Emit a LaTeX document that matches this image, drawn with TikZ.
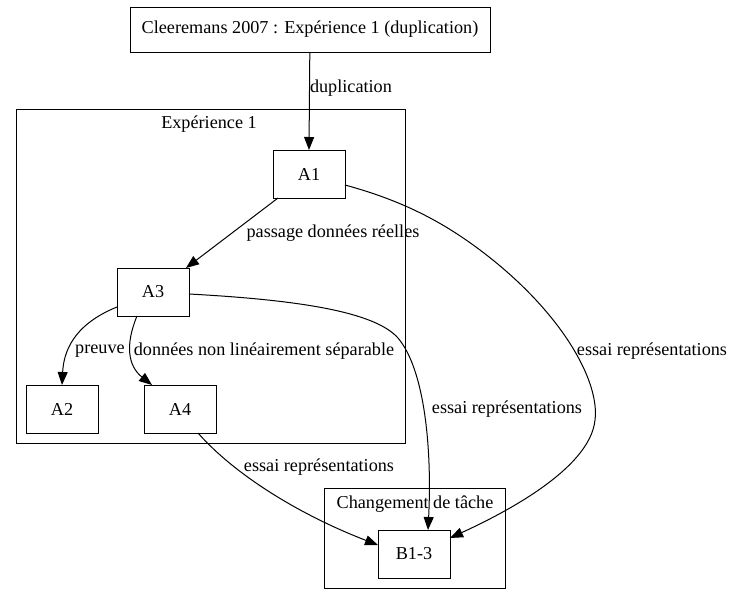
\documentclass[tikz,border=0pt]{standalone}
\usepackage{fontspec}
\setmainfont{Liberation Serif}
\usepackage{tikz}
\usetikzlibrary{positioning}
\usetikzlibrary{arrows.meta}
\tikzset{box/.style={draw, rectangle, minimum width=72pt, minimum height=48pt, inner sep=0pt}}
\tikzset{cluster/.style={draw, rectangle}}
\tikzset{edge/.style={-{Triangle[length=13pt,width=10pt]}}}
\tikzset{lbl/.style={inner sep=1pt}}

\begin{document}
\begin{tikzpicture}[x=1pt, y=-1pt, font=\fontsize{18.2}{20}\selectfont, line width=1pt]
\useasboundingbox (0,0) rectangle (733,605);
% clusters
\draw[cluster] (16,109) rectangle (405,443);
\node[lbl] (c1) at (209,124) {Expérience 1};
\draw[cluster] (324,488) rectangle (505,588);
\node[lbl] (c2) at (415,504) {Changement de tâche};
%
\node[box, minimum width=360pt, minimum height=45pt] (top) at (310,29.5) {Cleeremans 2007 : Expérience 1 (duplication)};
\node[box] (a1) at (309,174) {A1};
\node[box] (a3) at (153,292) {A3};
\node[box] (a2) at (62,409) {A2};
\node[box] (a4) at (180,409) {A4};
\node[box] (b13) at (414,554) {B1-3};
%
\coordinate (a1in) at (309,150);
\coordinate (a1sw) at (278,198);
\coordinate (a3in) at (186,268);
\coordinate (a1e) at (345,185);
\coordinate (b13e) at (450,538);
\coordinate (a3e) at (189,294);
\coordinate (b13n) at (428,530);
\coordinate (a3w) at (117,307);
\coordinate (a2n) at (62,385);
\coordinate (a3s) at (137,316);
\coordinate (a4n) at (152,385);
\coordinate (a4s) at (198,433);
\coordinate (b13w) at (378,545);
%
\draw[edge] (top) -- node[lbl, right, xshift=-1pt, pos=0.37] {duplication} (a1in);
\draw[edge] (a1sw) -- (a3in);
\node[lbl] (l1) at (333,233) {passage données réelles};
\draw[edge] (a1e) .. controls (400,200) and (440,220) .. (480,250)
  .. controls (560,310) and (600,380) .. (595,420)
  .. controls (590,470) and (500,515) .. (b13e);
\node[lbl] (l2) at (652,351) {essai représentations};
\draw[edge] (a3e) .. controls (300,300) and (375,312) .. (398,338)
  .. controls (425,370) and (432,450) .. (b13n);
\node[lbl] (l3) at (507,409) {essai représentations};
\draw[edge] (a3w) .. controls (80,322) and (64,345) .. (a2n);
\node[lbl] (l4) at (100,351) {preuve};
\draw[edge] (a3s) .. controls (125,345) and (128,366) .. (a4n);
\node[lbl] (l5) at (264,351) {données non linéairement séparable};
\draw[edge] (a4s) .. controls (235,475) and (300,515) .. (b13w);
\node[lbl] (l6) at (319,467) {essai représentations};
\end{tikzpicture}
\end{document}
